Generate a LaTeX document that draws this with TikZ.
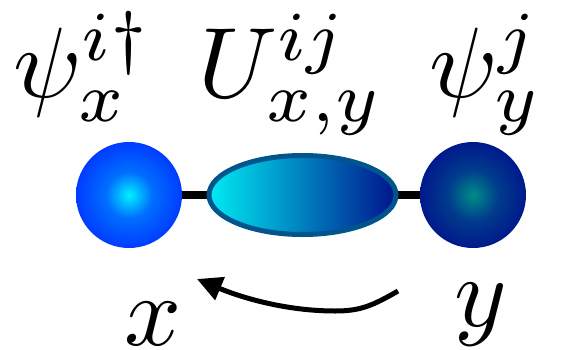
\documentclass[tikz,border=0pt]{standalone}
\usetikzlibrary{shapes.geometric,arrows.meta}
\definecolor{lcen}{RGB}{0,240,255}
\definecolor{lmid}{RGB}{0,110,255}
\definecolor{ledge}{RGB}{0,60,255}
\definecolor{rcen}{RGB}{0,140,135}
\definecolor{rmid}{RGB}{0,60,140}
\definecolor{redge}{RGB}{0,25,140}
\definecolor{uleft}{RGB}{0,235,242}
\definecolor{umid}{RGB}{0,160,205}
\definecolor{uright}{RGB}{0,20,140}
\definecolor{uborder}{RGB}{0,85,140}
\pgfdeclareradialshading{lball}{\pgfpoint{0bp}{0bp}}{color(0bp)=(lcen); color(11bp)=(lmid); color(25bp)=(ledge); color(50bp)=(ledge)}
\pgfdeclareradialshading{rball}{\pgfpoint{0bp}{0bp}}{color(0bp)=(rcen); color(12bp)=(rmid); color(25bp)=(redge); color(50bp)=(redge)}
\tikzset{
  site/.style={circle, minimum size=106pt, inner sep=0pt},
  link/.style={ellipse, minimum width=187pt, minimum height=79pt, inner sep=0pt,
    draw=uborder, line width=5pt, left color=uleft, middle color=umid, right color=uright},
  lbl/.style={scale=10, inner sep=0pt, anchor=base west},
  bond/.style={line width=8pt, black},
  hop/.style={line width=5pt, black, -{Triangle[length=25pt,width=24pt]}}
}
\begin{document}
\begin{tikzpicture}[x=1pt,y=-1pt]
\useasboundingbox (0,0) rectangle (579,349);
\coordinate (lc) at (129,195);
\coordinate (rc) at (473,195);
\draw[bond] (lc) -- (rc);
\node[site, shading=lball] (a) at (lc) {};
\node[site, shading=rball] (b) at (rc) {};
\node[link] (u) at (302.5,195) {};
\node[lbl] (la) at (11,97) {$\psi_x^{i\dagger}$};
\node[lbl] (lu) at (196,97) {$U_{x,y}^{ij}$};
\node[lbl] (lb) at (427,97) {$\psi_y^{j}$};
\node[lbl] (lx) at (122,345) {$x$};
\node[lbl] (ly) at (452,326) {$y$};
\coordinate (hs) at (398,291);
\coordinate (hm) at (335,311);
\coordinate (he) at (197,279);
\draw[hop] (hs) .. controls (372,306) and (360,311) .. (hm) .. controls (285,311) and (240,297) .. (he);
\end{tikzpicture}
\end{document}
